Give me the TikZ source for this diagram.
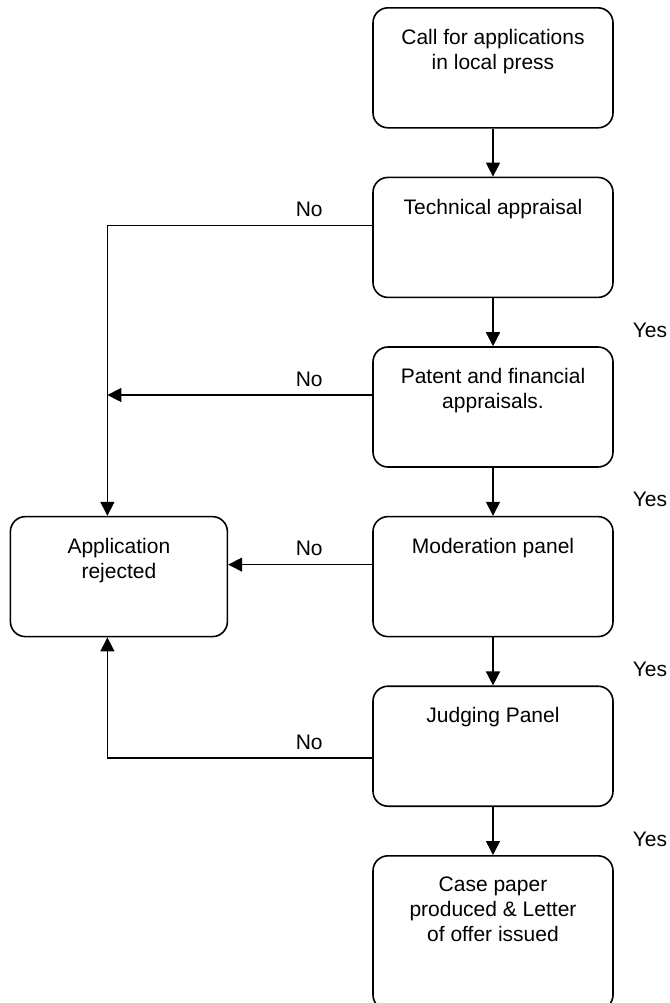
\documentclass[tikz,border=0pt]{standalone}
\usepackage{fontspec}
\setmainfont{Liberation Sans}
\usetikzlibrary{arrows.meta,positioning,calc}

\begin{document}
\begin{tikzpicture}[
    font=\fontsize{10.5pt}{12.5pt}\selectfont,
    >={Triangle[length=7pt,width=7pt]},
    node distance=24pt,
    stepbox/.style={draw, line width=0.8pt, rounded corners=7.5pt, inner sep=0pt, minimum width=120pt, minimum height=#1,
        execute at begin node={\begin{minipage}[c][#1][t]{104pt}\centering\vspace*{10.7pt}},
        execute at end node={\end{minipage}}},
    stepbox/.default=60pt,
    flow/.style={->, line width=0.75pt},
    answer/.style={inner sep=0pt}
]
\useasboundingbox (0,0) rectangle (335pt,-501.5pt);

\node[stepbox, anchor=north] (call) at (246.5pt,-3.5pt) {Call for applications\\in local press};
\node[stepbox, below=of call] (tech) {Technical appraisal};
\node[stepbox, below=of tech] (patent) {Patent and financial\\appraisals.};
\node[stepbox, below=of patent] (moder) {Moderation panel};
\node[stepbox, below=of moder] (judge) {Judging Panel};
\node[stepbox=77pt, below=of judge] (offer) {Case paper\\produced \& Letter\\of offer issued};
\node[stepbox, minimum width=108.5pt, left=72pt of moder] (reject) {Application\\rejected};

\coordinate (bustop) at ([xshift=-5.75pt]reject.north);
\coordinate (busbot) at ([xshift=-5.75pt]reject.south);
\coordinate (notech) at ([yshift=6pt]tech.west);
\coordinate (nopatent) at ([yshift=6pt]patent.west);
\coordinate (nomoder) at ([yshift=6pt]moder.west);
\coordinate (nojudge) at ([yshift=-6pt]judge.west);

\draw[flow] (call) -- (tech);
\draw[flow] (tech) -- node[answer, pos=1, xshift=78.5pt, yshift=8pt] {Yes} (patent);
\draw[flow] (patent) -- node[answer, pos=1, xshift=78.5pt, yshift=8pt] {Yes} (moder);
\draw[flow] (moder) -- node[answer, pos=1, xshift=78.5pt, yshift=8pt] {Yes} (judge);
\draw[flow] (judge) -- node[answer, pos=1, xshift=78.5pt, yshift=8pt] {Yes} (offer);

\draw[flow] (notech) -- node[answer, pos=0, xshift=-31.5pt, yshift=8pt] {No} (notech -| bustop) -- (bustop);
\draw[flow] (nopatent) -- node[answer, pos=0, xshift=-31.5pt, yshift=8pt] {No} (nopatent -| bustop);
\draw[flow] (nomoder) -- node[answer, pos=0, xshift=-31.5pt, yshift=8pt] {No} (nomoder -| reject.east);
\draw[flow] (nojudge) -- node[answer, pos=0, xshift=-31.5pt, yshift=8pt] {No} (nojudge -| busbot) -- (busbot);
\end{tikzpicture}
\end{document}
